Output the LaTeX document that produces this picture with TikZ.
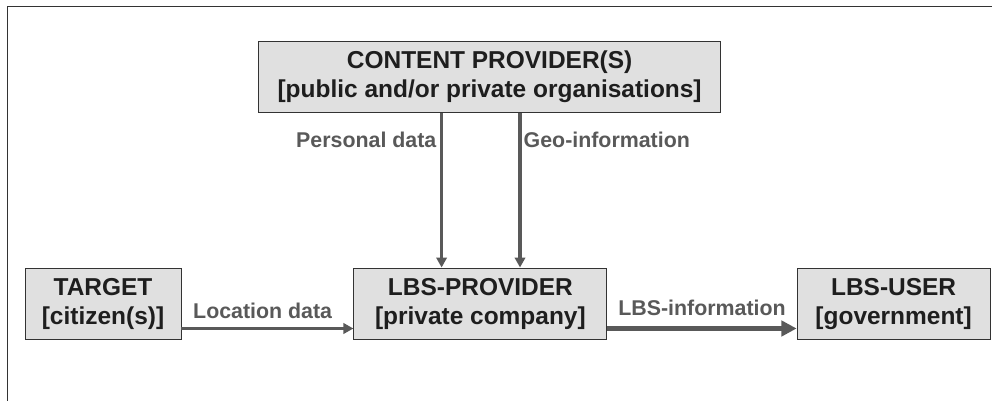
\documentclass[tikz,border=0pt]{standalone}
\usepackage{fontspec}
\setmainfont{Liberation Sans}
\usepackage{tikz}
\usetikzlibrary{arrows.meta}
\usepackage{xcolor}
\definecolor{fondocaja}{HTML}{E0E0E0}
\definecolor{bordecaja}{HTML}{333333}
\definecolor{textocaja}{HTML}{1E1E1E}
\definecolor{grisflecha}{HTML}{595959}
\tikzset{
	caja/.style={draw=bordecaja, line width=0.7pt, fill=fondocaja, text=textocaja,
		align=center, inner sep=0pt, minimum height=1.7875cm,
		font=\fontsize{17.4}{20.6}\selectfont\bfseries},
	etiq/.style={text=grisflecha, inner sep=0pt,
		font=\fontsize{15.2}{18}\selectfont\bfseries},
	flecha/.style={draw=grisflecha, line width=2.3pt,
		-{Triangle[length=0.25cm, width=0.26cm]}},
	flechagorda/.style={draw=grisflecha, line width=4.2pt,
		-{Triangle[length=0.38cm, width=0.38cm]}},
	marco/.style={draw=bordecaja, line width=1.1pt}
}

\begin{document}
\begin{tikzpicture}
		\def\ya{1.8125}
		\def\pdx{11.04}
		\def\gix{13.0}
		\useasboundingbox (0,0) rectangle (24.8,10.025);
		\draw[marco] (0.1875,0) -- (0.1875,9.86) -- (24.8,9.86); % marco
		% cajas
		\node[caja, minimum width=11.54cm, minimum height=1.775cm] (cp) at (12.24,8.1)
		{CONTENT PROVIDER(S)\\{[}public and/or private organisations{]}};
		\node[caja, minimum width=3.9cm] (tg) at (2.575,2.431)
		{TARGET\\{[}citizen(s){]}};
		\node[caja, minimum width=6.325cm] (lbs) at (12.01,2.431)
		{LBS-PROVIDER\\{[}private company{]}};
		\node[caja, minimum width=4.825cm] (usr) at (22.34,2.431)
		{LBS-USER\\{[}government{]}};
		\coordinate (pd) at (\pdx,6.3425);
		\coordinate (gi) at (\gix,6.3425);
		\coordinate (ya) at (0,\ya);
		% flechas
		\draw[flecha] (cp.south -| pd) -- (lbs.north -| pd);
		\draw[flecha] (cp.south -| gi) -- (lbs.north -| gi);
		\node[etiq, anchor=base east, xshift=-0.125cm] (lpd) at (pd) {Personal data};
		\node[etiq, anchor=base west, xshift=0.085cm] (lgi) at (gi) {Geo-information};
		\draw[flecha] (tg.east |- ya) -- (lbs.west |- ya)
		node[etiq, midway, above=0.21cm, xshift=-0.12cm] (lld) {Location data};
		\draw[flechagorda] (lbs.east |- ya) -- (usr.west |- ya)
		node[etiq, midway, above=0.25cm] (lli) {LBS-information};
\end{tikzpicture}
\end{document}
